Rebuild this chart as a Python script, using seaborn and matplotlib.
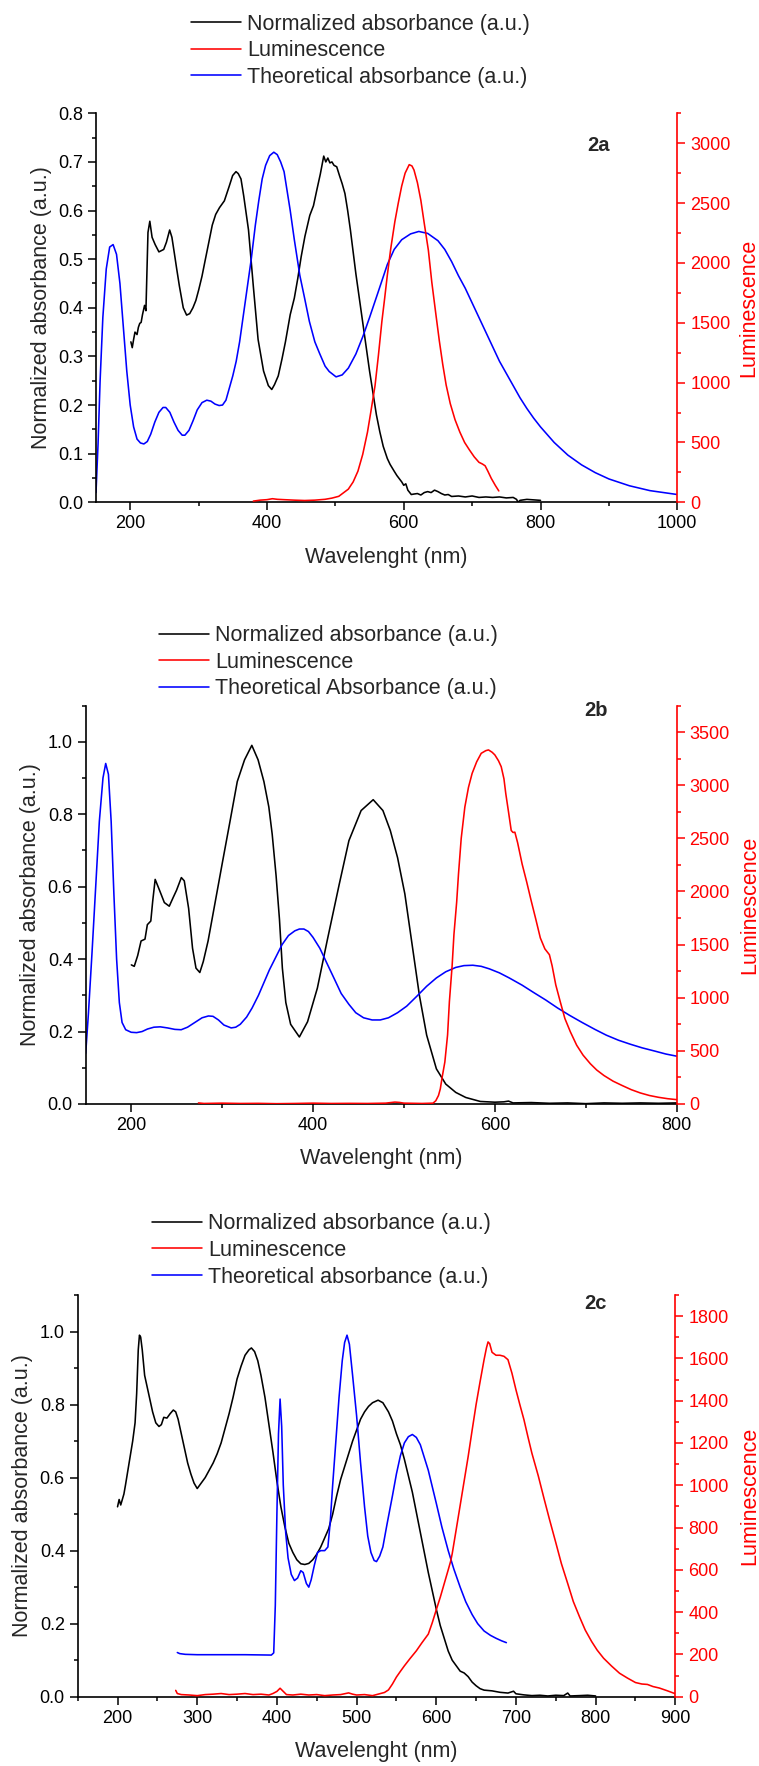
import numpy as np
import pandas as pd
import matplotlib
matplotlib.use("Agg")
import matplotlib.pyplot as plt
from matplotlib.ticker import MultipleLocator, FormatStrFormatter
import seaborn as sns

# ---------------- DATA ----------------
# Panel 2a
a_abs_wl = [201, 203, 205, 207, 210, 212, 214, 216, 218, 221, 223, 226, 228.7, 232, 236.5, 242, 249, 253, 257.7, 261, 264.8, 268,
            271.9, 277.6, 282.5, 287, 291.7, 296, 300.2, 305, 309.4, 315, 320, 325, 330.6, 337.7, 344.8, 349.8, 354.7, 358,
            362, 366, 373, 380, 387, 395, 402, 407, 411, 416.5, 422, 427, 434, 440, 445, 450, 455.5, 462.6, 468, 473,
            478, 483, 486, 489, 492, 495, 498, 502, 506, 510, 514, 518, 522, 526, 530, 535, 540, 545, 550, 555,
            560, 565, 570, 576, 580, 586, 590, 597, 600, 603, 606, 611, 615, 620, 625, 630, 635, 640, 645, 650,
            655, 660, 665, 670, 680, 690, 700, 710, 720, 730, 740, 750, 760, 765, 767, 770, 780, 790, 800]
a_abs_val = [0.330, 0.318, 0.335, 0.350, 0.345, 0.360, 0.368, 0.370, 0.386, 0.405, 0.394, 0.555, 0.578, 0.545, 0.530, 0.515, 0.520, 0.535, 0.560, 0.545, 0.510, 0.480,
             0.445, 0.400, 0.385, 0.388, 0.400, 0.415, 0.437, 0.465, 0.496, 0.535, 0.570, 0.592, 0.606, 0.620, 0.650, 0.672, 0.680, 0.676,
             0.665, 0.630, 0.560, 0.445, 0.335, 0.270, 0.240, 0.232, 0.242, 0.260, 0.295, 0.330, 0.386, 0.420, 0.460, 0.505, 0.547, 0.590, 0.610, 0.643,
             0.675, 0.712, 0.700, 0.708, 0.698, 0.700, 0.693, 0.690, 0.672, 0.655, 0.635, 0.600, 0.560, 0.515, 0.470, 0.420, 0.370, 0.320, 0.270, 0.225,
             0.180, 0.145, 0.115, 0.090, 0.078, 0.064, 0.055, 0.042, 0.035, 0.038, 0.025, 0.016, 0.017, 0.018, 0.015, 0.020, 0.022, 0.020, 0.025, 0.022,
             0.018, 0.015, 0.016, 0.012, 0.013, 0.011, 0.013, 0.010, 0.011, 0.010, 0.011, 0.009, 0.010, 0.006, 0.000, 0.004, 0.006, 0.005, 0.004]

a_theo_wl = [150, 153, 156, 160, 165, 170, 175, 180, 185, 190, 195, 200, 205, 210, 215, 220, 225, 230, 236, 242, 248, 252, 258,
             264, 270, 276, 280, 286, 292, 298, 305, 312, 318, 324, 330, 335, 340, 345, 350, 355, 360, 365, 370, 377, 383,
             388, 393, 398, 404, 410, 415, 420, 425, 434, 440, 448, 455, 462, 470, 477, 485, 491, 501, 510, 519, 530, 540.5,
             550, 562, 576, 586, 597, 610, 622, 635, 650, 660, 670, 680, 690, 700, 710, 720, 730, 740, 750, 760, 770, 780,
             790, 800, 820, 840, 860, 880, 900, 930, 960, 1000]
a_theo_val = [0.02, 0.12, 0.25, 0.38, 0.48, 0.525, 0.53, 0.51, 0.45, 0.36, 0.27, 0.20, 0.155, 0.13, 0.122, 0.12, 0.125, 0.14, 0.165, 0.185, 0.195, 0.195, 0.185,
              0.165, 0.148, 0.138, 0.138, 0.148, 0.168, 0.19, 0.205, 0.21, 0.208, 0.202, 0.199, 0.20, 0.21, 0.235, 0.26, 0.29, 0.33, 0.38, 0.43, 0.50, 0.57,
              0.62, 0.665, 0.693, 0.713, 0.72, 0.715, 0.70, 0.68, 0.60, 0.54, 0.467, 0.42, 0.372, 0.33, 0.306, 0.28, 0.269, 0.258, 0.262, 0.276, 0.305, 0.342,
              0.38, 0.43, 0.489, 0.52, 0.54, 0.552, 0.557, 0.553, 0.538, 0.52, 0.495, 0.466, 0.44, 0.41, 0.38, 0.35, 0.32, 0.29, 0.265, 0.24, 0.215, 0.193,
              0.173, 0.155, 0.123, 0.097, 0.077, 0.061, 0.048, 0.034, 0.024, 0.016]

a_lum_wl = [380, 390, 400, 408, 415, 425, 440, 455, 470, 485, 495, 505, 512, 519, 526, 533, 540, 547, 552, 558, 563, 568, 572, 576,
            581, 587, 592, 597, 602, 608, 612, 615, 620, 625, 630, 636, 641, 647, 652, 657, 662, 668, 675, 682, 689, 696,
            703, 710, 715, 719, 723, 728, 734, 739]
a_lum_val = [10, 18, 22, 30, 25, 22, 18, 15, 18, 25, 35, 50, 80, 110, 170, 260, 400, 587, 760, 974, 1230, 1510, 1700, 1898,
             2120, 2345, 2500, 2642, 2750, 2821, 2810, 2776, 2670, 2523, 2330, 2106, 1840, 1570, 1350, 1153, 980, 825, 690, 587, 500, 438,
             380, 334, 320, 305, 260, 200, 140, 95]

# Panel 2b
b_abs_wl = [200.2, 203.4, 207.2, 210.9, 215.2, 217.8, 221.6, 223.7, 226.4, 231.2, 236.5, 241.9, 246.2, 249.9, 255.2, 258.4,
            263.2, 267.5, 271.3, 275.5, 279.3, 284.6, 292.6, 300.6, 308.7, 316.7, 324.7, 332.7, 339.6, 346, 351.4, 355.1,
            359.4, 363.1, 366.3, 370.1, 375.4, 385, 394, 404.8, 415.5, 428.8, 439.5, 452.9, 466.2, 476.9, 485, 493, 501,
            509, 517, 525, 535.7, 546, 557, 568, 584, 600, 610, 615, 620, 640, 660, 680, 700, 720, 740, 760, 780, 800]
b_abs_val = [0.384, 0.380, 0.410, 0.450, 0.455, 0.495, 0.505, 0.560, 0.620, 0.590, 0.556, 0.546, 0.570, 0.590, 0.625, 0.616,
             0.540, 0.430, 0.375, 0.363, 0.393, 0.450, 0.560, 0.670, 0.780, 0.890, 0.950, 0.990, 0.950, 0.890, 0.820, 0.745,
             0.630, 0.510, 0.375, 0.280, 0.220, 0.185, 0.227, 0.320, 0.450, 0.606, 0.727, 0.810, 0.840, 0.810, 0.755, 0.680, 0.580,
             0.440, 0.300, 0.190, 0.097, 0.055, 0.032, 0.018, 0.007, 0.005, 0.006, 0.008, 0.003, 0.004, 0.002, 0.003, 0.001, 0.003, 0.002, 0.003, 0.002, 0.003]

b_theo_wl = [150, 153, 157, 161, 165, 169, 172, 175, 178, 181, 184, 187, 190, 194, 200, 206, 212, 218, 225, 232, 240, 248, 255,
             262, 270, 278, 285, 290, 296, 302, 310, 315, 320, 327, 333, 340, 346, 352, 359, 366, 373, 380, 385, 390, 395,
             400, 407.5, 415, 423.5, 431, 439.5, 447, 455.6, 465, 474, 483, 493, 503, 514, 525, 535.7, 546, 557, 566, 575.8,
             585, 594, 605, 615.8, 630, 642.5, 656, 669, 682, 696, 710, 722.6, 736, 749, 762, 776, 788, 800]
b_theo_val = [0.14, 0.25, 0.42, 0.60, 0.78, 0.90, 0.94, 0.91, 0.78, 0.58, 0.40, 0.28, 0.225, 0.205, 0.198, 0.197, 0.200, 0.207, 0.212, 0.213, 0.21, 0.206, 0.205,
              0.212, 0.225, 0.238, 0.243, 0.242, 0.232, 0.218, 0.21, 0.212, 0.22, 0.24, 0.265, 0.30, 0.335, 0.37, 0.405, 0.44, 0.465, 0.478, 0.483, 0.483, 0.476,
              0.46, 0.43, 0.39, 0.345, 0.305, 0.275, 0.252, 0.238, 0.232, 0.232, 0.238, 0.252, 0.27, 0.297, 0.325, 0.348, 0.365, 0.377, 0.382, 0.383,
              0.38, 0.373, 0.362, 0.348, 0.328, 0.308, 0.287, 0.265, 0.245, 0.225, 0.206, 0.19, 0.176, 0.165, 0.155, 0.146, 0.138, 0.132]

b_lum_wl = [274, 280, 300, 320, 340, 360, 380, 400, 420, 440, 460, 480, 490, 495, 500, 520, 532, 535, 538, 540, 542, 545, 548,
            550, 553, 555, 558, 560, 563, 567, 571, 575, 580, 585, 590, 593, 597, 600, 604, 607, 610, 612, 615, 618, 620,
            622, 625, 630, 635, 640, 645, 650, 655, 660, 663, 667, 672, 677, 683, 690, 697, 705, 712, 720, 730, 740, 750,
            760, 770, 780, 790, 800]
b_lum_val = [10, 5, 8, 5, 6, 3, 5, 8, 5, 6, 5, 8, 18, 15, 8, 5, 8, 30, 80, 142, 250, 395, 650,
             963, 1300, 1595, 1900, 2163, 2500, 2795, 2980, 3111, 3220, 3300, 3325, 3332, 3310, 3285, 3230, 3174, 3060, 2922, 2750, 2574, 2555,
             2558, 2460, 2258, 2090, 1911, 1740, 1563, 1460, 1405, 1300, 1121, 960, 805, 680, 553, 460, 379, 320, 268, 215, 174, 135,
             104, 80, 63, 50, 41]

# Panel 2c
c_abs_wl = [200, 202, 204, 206, 208, 210, 213, 216, 219, 222, 224, 226, 227.5, 229, 231, 234, 237, 240, 244, 248, 252, 255, 258,
            262, 266, 270, 273, 276, 280, 284, 288, 292, 296, 300, 305, 310, 315, 320, 325, 330, 335, 340, 345, 350, 355,
            360, 365, 368, 372, 376, 380, 385, 390, 395, 400, 405, 410, 415, 420, 425, 430, 435, 440, 445, 450, 455, 460,
            465, 470, 475, 480, 485, 490, 495, 500, 505, 510, 515, 520, 527, 533, 540, 545, 550, 555, 560, 565, 570, 575,
            580, 585, 590, 595, 600, 605, 610, 615, 620, 625, 630, 635, 640, 645, 650, 655, 660, 670, 680, 690, 697, 700,
            710, 720, 730, 740, 750, 760, 765, 768, 780, 790, 800]
c_abs_val = [0.52, 0.54, 0.525, 0.54, 0.555, 0.58, 0.62, 0.66, 0.70, 0.75, 0.83, 0.95, 0.99, 0.985, 0.95, 0.88, 0.85, 0.82, 0.78, 0.75, 0.74, 0.745, 0.765,
             0.763, 0.775, 0.785, 0.78, 0.76, 0.72, 0.68, 0.64, 0.61, 0.585, 0.57, 0.585, 0.60, 0.62, 0.64, 0.665, 0.695, 0.735, 0.775, 0.82, 0.87, 0.905,
             0.935, 0.95, 0.955, 0.945, 0.92, 0.88, 0.82, 0.745, 0.67, 0.59, 0.52, 0.465, 0.42, 0.395, 0.375, 0.364, 0.362, 0.365, 0.375, 0.39, 0.41, 0.435,
             0.46, 0.50, 0.55, 0.595, 0.63, 0.665, 0.70, 0.73, 0.76, 0.78, 0.795, 0.805, 0.812, 0.805, 0.78, 0.755, 0.72, 0.69, 0.65, 0.605, 0.56, 0.505,
             0.45, 0.395, 0.34, 0.29, 0.24, 0.195, 0.16, 0.125, 0.10, 0.085, 0.07, 0.065, 0.055, 0.04, 0.03, 0.022, 0.018, 0.016, 0.012, 0.01, 0.015, 0.008,
             0.005, 0.003, 0.004, 0.002, 0.004, 0.003, 0.01, 0.002, 0.003, 0.004, 0.002]

c_theo_wl = [275, 278, 285, 300, 330, 360, 393, 396, 398, 400, 402, 404, 406, 408, 411, 414, 418, 422, 426, 430, 433, 437, 440,
             443, 447, 451, 455, 460, 464, 467, 470, 474, 478, 482, 485, 488, 491, 495, 500, 505, 510, 514, 518, 522, 525,
             529, 533, 538, 545, 550, 555, 560, 565, 570, 575, 580, 585, 590, 595, 600, 607, 615, 622, 630, 637, 645, 652,
             660, 668, 675, 682, 688]
c_theo_val = [0.121, 0.118, 0.116, 0.115, 0.115, 0.115, 0.114, 0.12, 0.25, 0.50, 0.72, 0.815, 0.74, 0.58, 0.45, 0.38, 0.335, 0.318, 0.325, 0.345, 0.34, 0.31, 0.30,
              0.32, 0.36, 0.395, 0.40, 0.40, 0.41, 0.48, 0.58, 0.70, 0.82, 0.92, 0.97, 0.99, 0.965, 0.88, 0.77, 0.64, 0.52, 0.44, 0.395, 0.373, 0.37,
              0.385, 0.41, 0.47, 0.55, 0.61, 0.66, 0.695, 0.712, 0.718, 0.71, 0.69, 0.655, 0.62, 0.575, 0.53, 0.465, 0.40, 0.35, 0.30, 0.26, 0.225, 0.20,
              0.18, 0.168, 0.16, 0.153, 0.148]

c_lum_wl = [273, 275, 280, 290, 300, 310, 320, 330, 340, 350, 360, 370, 380, 390, 395, 400, 404, 408, 412, 420, 430, 440, 450,
            460, 470, 480, 490, 495, 500, 510, 520, 530, 535, 540, 545, 550, 555, 560, 567, 575, 582, 590, 595, 600, 605,
            610, 615, 618, 620, 625, 630, 635, 640, 645, 650, 655, 660, 663, 665, 667, 670, 675, 680, 685, 690, 695, 700,
            705, 710, 715, 720, 728, 735, 742, 750, 757, 765, 772, 780, 787, 795, 802, 810, 820, 830, 840, 850, 858, 865,
            872, 880, 890, 900]
c_lum_val = [30, 15, 10, 8, 5, 10, 12, 15, 10, 12, 15, 10, 12, 8, 15, 25, 40, 25, 10, 8, 12, 8, 10,
             5, 8, 10, 18, 12, 8, 10, 5, 15, 20, 32, 60, 93, 120, 146, 180, 217, 255, 296, 350, 411, 470,
             535, 600, 640, 676, 790, 905, 1020, 1135, 1260, 1382, 1490, 1594, 1650, 1678, 1670, 1629, 1615, 1615, 1610, 1594, 1530, 1452,
             1380, 1311, 1230, 1152, 1045, 941, 840, 729, 630, 535, 450, 376, 315, 261, 220, 182, 145, 111, 88, 67, 60, 58,
             48, 41, 28, 14]

legend_a = ["Normalized absorbance (a.u.)", "Luminescence", "Theoretical absorbance (a.u.)"]
legend_b = ["Normalized absorbance (a.u.)", "Luminescence", "Theoretical Absorbance (a.u.)"]
legend_c = ["Normalized absorbance (a.u.)", "Luminescence", "Theoretical absorbance (a.u.)"]
panel_tags = ["2a", "2b", "2c"]

# ---------------- STYLE ----------------
sns.set_theme(style="ticks")
plt.rcParams["font.family"] = ["Liberation Sans", "DejaVu Sans"]
plt.rcParams.update({
    "axes.linewidth": 1.2,
    "xtick.direction": "out", "ytick.direction": "out",
    "xtick.major.size": 5.8, "ytick.major.size": 5.8,
    "xtick.minor.size": 3.0, "ytick.minor.size": 3.0,
    "xtick.major.width": 1.1, "ytick.major.width": 1.1,
    "xtick.minor.width": 1.1, "ytick.minor.width": 1.1,
    "xtick.labelsize": 13, "ytick.labelsize": 13,
    "xtick.color": "black", "ytick.color": "black",
    "axes.edgecolor": "black",
})

W, H = 759, 1766
fig = plt.figure(figsize=(W / 100, H / 100), dpi=100)

BLACK, RED, BLUE = "#000000", "#FF0000", "#0000FF"
LW = 1.15


def box(left, right, top, bottom):
    return [left / W, 1 - bottom / H, (right - left) / W, (bottom - top) / H]


panels = [
    dict(box=box(96, 677.3, 113.3, 502.3),
         abs=(a_abs_wl, a_abs_val), theo=(a_theo_wl, a_theo_val), lum=(a_lum_wl, a_lum_val),
         xlim=(150, 1000), xmaj=200, xmin=100, ylim=(0, 0.8), ymaj=0.1, ymin=0.05,
         rlim=(0, 3250), rmaj=500, rmin=250, legend=legend_a, leg_xy=(191, 50.7),
         tag_xy=(0.8636, 0.9185), ylab_x=-0.0934, rlab_x=1.1228, xlab_y=-0.141),
    dict(box=box(85.7, 676.7, 705.5, 1104),
         abs=(b_abs_wl, b_abs_val), theo=(b_theo_wl, b_theo_val), lum=(b_lum_wl, b_lum_val),
         xlim=(150, 800), xmaj=200, xmin=100, ylim=(0, 1.1), ymaj=0.2, ymin=0.1,
         rlim=(0, 3750), rmaj=500, rmin=250, legend=legend_b, leg_xy=(159.4, 662.2),
         tag_xy=(0.8635, 0.9887), ylab_x=-0.0931, rlab_x=1.1232, xlab_y=-0.138),
    dict(box=box(77.7, 675.3, 1295, 1696.7),
         abs=(c_abs_wl, c_abs_val), theo=(c_theo_wl, c_theo_val), lum=(c_lum_wl, c_lum_val),
         xlim=(150, 900), xmaj=100, xmin=50, ylim=(0, 1.1), ymaj=0.2, ymin=0.1,
         rlim=(0, 1900), rmaj=200, rmin=100, legend=legend_c, leg_xy=(152.1, 1250.5),
         tag_xy=(0.867, 0.978), ylab_x=-0.0925, rlab_x=1.125, xlab_y=-0.137),
]

for p, tag in zip(panels, panel_tags):
    ax = fig.add_axes(p["box"])
    ax2 = ax.twinx()

    df_abs = pd.DataFrame({"wl": p["abs"][0], "v": p["abs"][1]})
    df_theo = pd.DataFrame({"wl": p["theo"][0], "v": p["theo"][1]})
    df_lum = pd.DataFrame({"wl": p["lum"][0], "v": p["lum"][1]})

    sns.lineplot(data=df_abs, x="wl", y="v", ax=ax, color=BLACK, lw=LW,
                 sort=False, estimator=None, legend=False)
    sns.lineplot(data=df_theo, x="wl", y="v", ax=ax, color=BLUE, lw=LW,
                 sort=False, estimator=None, legend=False)
    sns.lineplot(data=df_lum, x="wl", y="v", ax=ax2, color=RED, lw=LW,
                 sort=False, estimator=None, legend=False)

    ax.set_xlim(*p["xlim"])
    ax.set_ylim(*p["ylim"])
    ax2.set_ylim(*p["rlim"])

    ax.xaxis.set_major_locator(MultipleLocator(p["xmaj"]))
    ax.xaxis.set_minor_locator(MultipleLocator(p["xmin"]))
    ax.yaxis.set_major_locator(MultipleLocator(p["ymaj"]))
    ax.yaxis.set_minor_locator(MultipleLocator(p["ymin"]))
    ax.yaxis.set_major_formatter(FormatStrFormatter("%.1f"))
    ax2.yaxis.set_major_locator(MultipleLocator(p["rmaj"]))
    ax2.yaxis.set_minor_locator(MultipleLocator(p["rmin"]))

    for s in ["top", "right"]:
        ax.spines[s].set_visible(False)
    ax2.spines["top"].set_visible(False)
    ax2.spines["left"].set_visible(False)
    ax2.spines["bottom"].set_visible(False)
    ax2.spines["right"].set_color(RED)
    ax2.spines["right"].set_linewidth(1.2)
    ax2.tick_params(axis="y", which="both", colors=RED, labelcolor=RED)
    ax.tick_params(axis="x", which="both", top=False)
    ax.tick_params(axis="y", which="both", right=False)

    ax.set_xlabel("Wavelenght (nm)", fontsize=15.5)
    ax.set_ylabel("Normalized absorbance (a.u.)", fontsize=15.5)
    ax2.set_ylabel("Luminescence", fontsize=15.5, color=RED)
    ax.xaxis.set_label_coords(0.5, p["xlab_y"])
    ax.xaxis.label.set_verticalalignment("center")
    ax.yaxis.set_label_coords(p["ylab_x"], 0.5)
    ax.yaxis.label.set_verticalalignment("center")
    ax2.yaxis.set_label_coords(p["rlab_x"], 0.5)
    ax2.yaxis.label.set_verticalalignment("center")

    ax.text(p["tag_xy"][0], p["tag_xy"][1], tag, transform=ax.transAxes,
            ha="center", va="center", fontsize=14.5, fontweight="bold")

    handles = [ax.lines[0], ax2.lines[0], ax.lines[1]]
    lx, ly = p["leg_xy"]
    fig.legend(handles, p["legend"], loc="center left",
               bbox_to_anchor=(lx / W, 1 - ly / H), bbox_transform=fig.transFigure,
               frameon=False, fontsize=15.5, handlelength=2.3, handletextpad=0.3,
               labelspacing=0.26, borderpad=0, borderaxespad=0)

fig.savefig("out.png", dpi=100, facecolor="white")
